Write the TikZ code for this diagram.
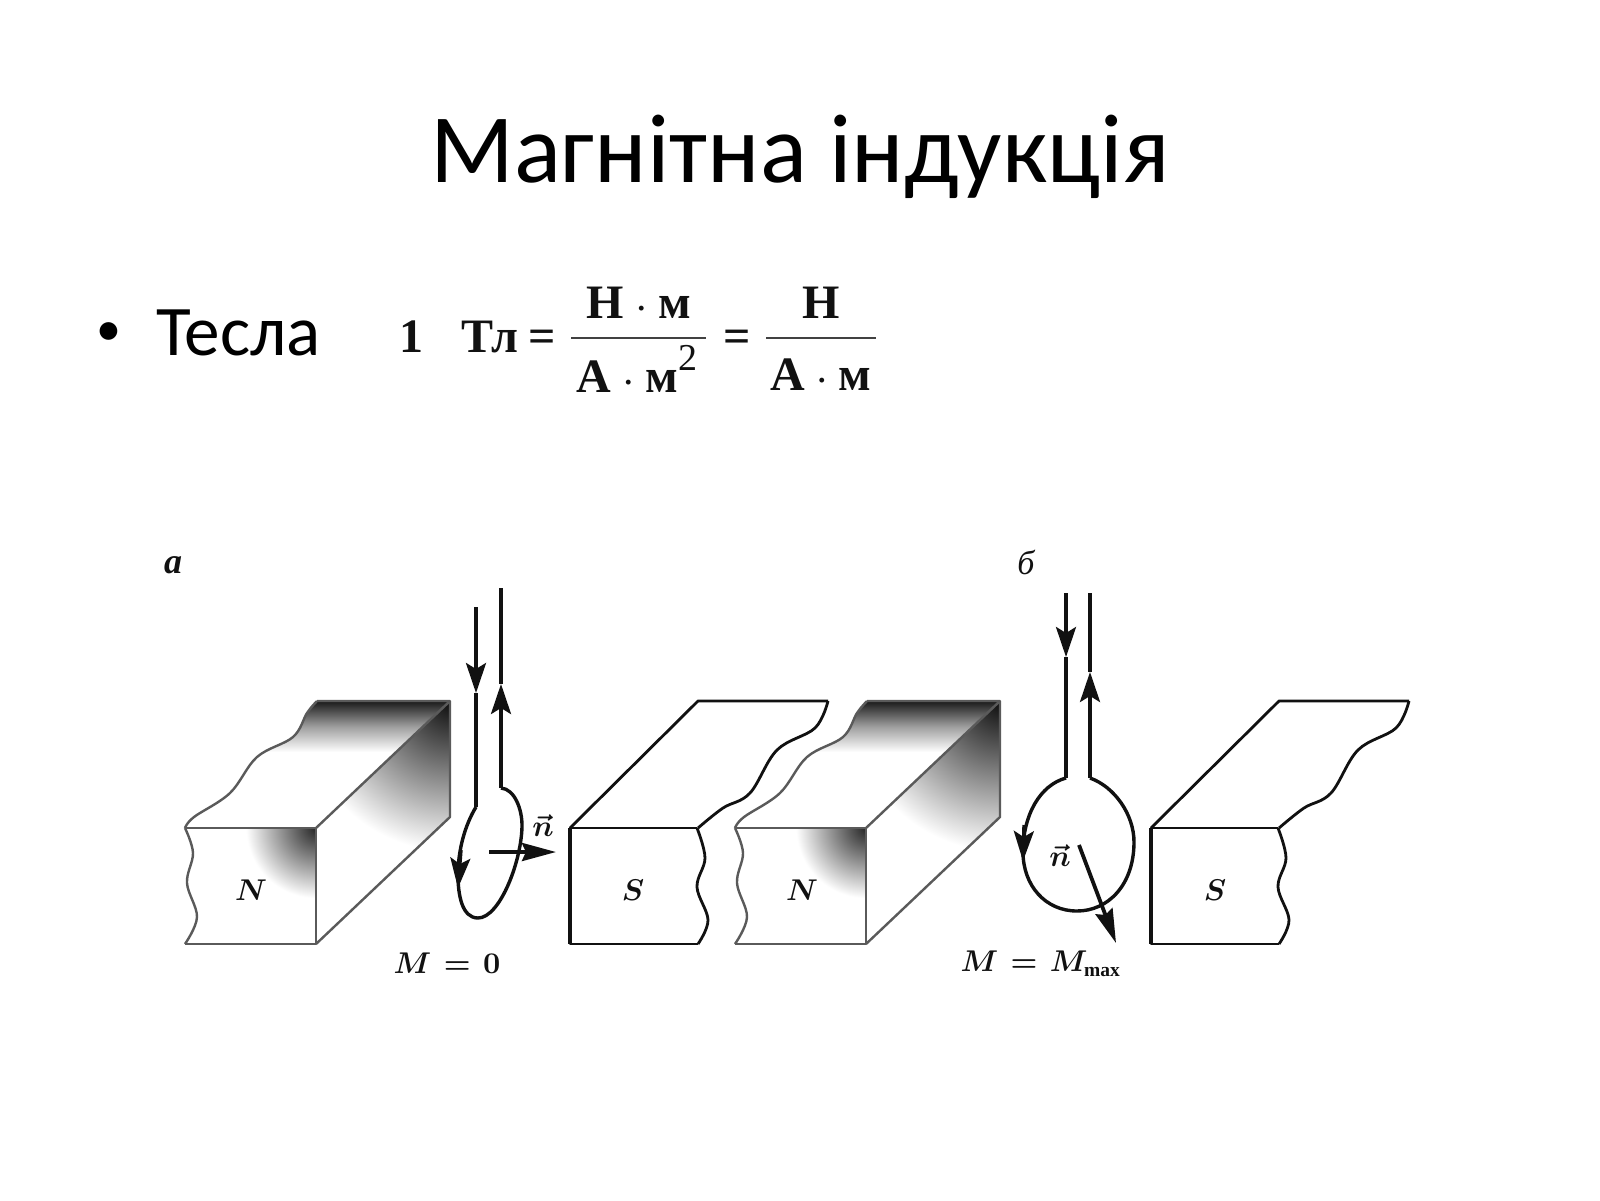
\documentclass[tikz,border=0pt]{standalone}
\usepackage{fontspec}
\usetikzlibrary{arrows.meta}
\setmainfont{Carlito}
\newfontfamily\formfont{Liberation Serif}
\definecolor{inkc}{HTML}{111111}
\definecolor{magc}{HTML}{5A5A5A}
\tikzset{
  x=0.5pt,y=-0.5pt,
  titletext/.style={anchor=base,inner sep=0pt,font=\fontsize{49}{58}\selectfont,text=black},
  bodytext/.style={anchor=base west,inner sep=0pt,font=\fontsize{35.6}{42}\selectfont,text=black},
  formula/.style={inner sep=0pt,anchor=base,font=\formfont\bfseries\fontsize{24}{28}\selectfont,text=inkc},
  fracline/.style={draw=inkc!80,line width=1.2pt},
  mathlabel/.style={inner sep=0pt,scale=1.5,text=inkc,font=\boldmath},
  edgeN/.style={draw=magc,line width=1.2pt,line join=round},
  edgeS/.style={draw=inkc,line width=1.4pt,line join=round},
  wire/.style={draw=inkc,line width=1.7pt},
  wiretip/.style={draw=inkc,line width=1.7pt,-{Stealth[length=15pt,width=10pt,inset=3pt]}},
  narrow/.style={draw=inkc,line width=1.9pt,-{Stealth[length=17pt,width=9pt,inset=2pt]}},
}
\newcommand{\Nmagnet}{%
  \begin{scope}
    \clip (185,828) plot[smooth,tension=0.6] coordinates {(185,828) (194,817) (230,793) (257,757) (293,737) (307,713) (317,701)} -- (450,701) -- (316,828) -- cycle;
    \shade[top color=black!90,bottom color=white,middle color=black!38] (180,701) rectangle (460,752);
  \end{scope}
  \begin{scope}
    \clip (316,828) -- (450,701) -- (450,817) -- (316,944) -- cycle;
    \shade[inner color=black!95,outer color=white] (450,701) circle (150);
  \end{scope}
  \begin{scope}
    \clip (185,828) rectangle (316,944);
    \shade[inner color=black!85,outer color=white] (316,828) circle (70);
  \end{scope}
  \draw[edgeN] plot[smooth,tension=0.6] coordinates {(185,828) (194,817) (230,793) (257,757) (293,737) (307,713) (317,701)};
  \draw[edgeN] plot[smooth,tension=0.6] coordinates {(185,828) (193,853) (187,883) (197,917) (185,944)};
  \draw[edgeN] (185,828) -- (316,828) -- (316,944) -- (185,944);
  \draw[edgeN] (316,828) -- (450,701);
  \draw[edgeN] (316,944) -- (450,817) -- (450,701) -- (317,701);
}
\newcommand{\Smagnet}{%
  \draw[edgeS] (570,828) -- (698,701) -- (828,701);
  \draw[edgeS] plot[smooth,tension=0.6] coordinates {(828,701) (815,728) (777,750) (750,793) (723,808) (698,828)};
  \draw[edgeS] plot[smooth,tension=0.6] coordinates {(697,828) (705,858) (697,887) (708,920) (698,944)};
  \draw[edgeS] (698,944) -- (570,944) -- (570,828) -- (697,828);
  \draw[edgeS,line width=2pt] (570,828) -- (570,944);
}
\begin{document}
\begin{tikzpicture}
\useasboundingbox (0,0) rectangle (1600,1200);
\fill[white] (0,0) rectangle (1600,1200);

\node[titletext] (title) at (800,182) {Магнітна індукція};
\node[bodytext,font=\fontsize{25}{30}\selectfont] (bullet) at (96.5,345) {•};
\node[bodytext] (tesla) at (156,355) {Тесла};

\node[formula] (one) at (411,352) {1};
\node[formula] (tl) at (490,352) {Тл};
\node[formula] (eqa) at (542,352) {=};
\node[formula] (numa) at (639,318) {Н {\fontsize{15}{15}\selectfont·} м};
\coordinate (fa1) at (571,338);
\coordinate (fa2) at (706,338);
\draw[fracline] (fa1) -- (fa2);
\node[formula] (dena) at (637,392) {А {\fontsize{15}{15}\selectfont·} м\raisebox{11pt}{\fontsize{19}{19}\selectfont\mdseries 2}};
\node[formula] (eqb) at (737,352) {=};
\node[formula] (numb) at (821,318) {Н};
\coordinate (fb1) at (766,338);
\coordinate (fb2) at (876,338);
\draw[fracline] (fb1) -- (fb2);
\node[formula] (denb) at (821,390) {А {\fontsize{15}{15}\selectfont·} м};

% panel a
\node[inner sep=0pt,text=inkc,font=\formfont\bfseries\itshape\fontsize{18}{20}\selectfont] (la) at (173,565) {a};
\Nmagnet
\node[mathlabel] (N1) at (251,890) {$N$};
\Smagnet
\node[mathlabel] (S1) at (633,890) {$S$};
\coordinate (a1) at (476,607);
\coordinate (a1t) at (476,693);
\coordinate (a1e) at (476,807);
\coordinate (a2) at (501,788);
\coordinate (a2t) at (501,684);
\coordinate (a2e) at (501,588);
\draw[wire] (a1t) -- (a1e);
\draw[wiretip] (a1) -- (a1t);
\draw[wire] (a2e) -- (a2t);
\draw[wiretip] (a2) -- (a2t);
\draw[wire] (a2) .. controls (515,789) and (522,810) .. (522,825) .. controls (522,860) and (500,918) .. (478,918) .. controls (462,918) and (458,895) .. (458,875) .. controls (458,850) and (465,825) .. (a1e);
\coordinate (al1) at (461,850);
\coordinate (al2) at (458,888);
\draw[wiretip] (al1) -- (al2);
\coordinate (an1) at (489,852);
\coordinate (an2) at (556,852);
\draw[narrow] (an1) -- (an2);
\node[mathlabel] (na) at (543,826) {$\vec{n}$};
\node[mathlabel] (ma) at (447,963) {$M\mkern6.5mu{=}\mkern6.5mu0$};

% panel b
\node[inner sep=0pt,text=inkc,font=\formfont\itshape\fontsize{17}{20}\selectfont] (lb) at (1026,562) {б};
\begin{scope}[shift={(550,0)}]
  \Nmagnet
\end{scope}
\node[mathlabel] (N2) at (802,890) {$N$};
\begin{scope}[shift={(581,0)}]
  \Smagnet
\end{scope}
\node[mathlabel] (S2) at (1215,890) {$S$};
\coordinate (b1) at (1066,593);
\coordinate (b1t) at (1066,657);
\coordinate (b1e) at (1066,778);
\coordinate (b2) at (1090,778);
\coordinate (b2t) at (1090,672);
\coordinate (b2e) at (1090,593);
\draw[wire] (b1t) -- (b1e);
\draw[wiretip] (b1) -- (b1t);
\draw[wire] (b2e) -- (b2t);
\draw[wiretip] (b2) -- (b2t);
\draw[wire] (b2) .. controls (1115,787) and (1134,815) .. (1134,842) .. controls (1134,885) and (1108,911) .. (1077,911) .. controls (1045,911) and (1023,885) .. (1023,852) .. controls (1023,815) and (1040,785) .. (b1e);
\coordinate (bl1) at (1024,825);
\coordinate (bl2) at (1023,861);
\draw[wiretip] (bl1) -- (bl2);
\coordinate (bn1) at (1079,845);
\coordinate (bn2) at (1116,943);
\draw[narrow] (bn1) -- (bn2);
\node[mathlabel] (nb) at (1060,856) {$\vec{n}$};
\node[mathlabel] (mb) at (1041,964) {$M\mkern6.5mu{=}\mkern6.5mu M_{\mbox{\formfont\bfseries\fontsize{6.5}{7}\selectfont max}}$};
\end{tikzpicture}
\end{document}
